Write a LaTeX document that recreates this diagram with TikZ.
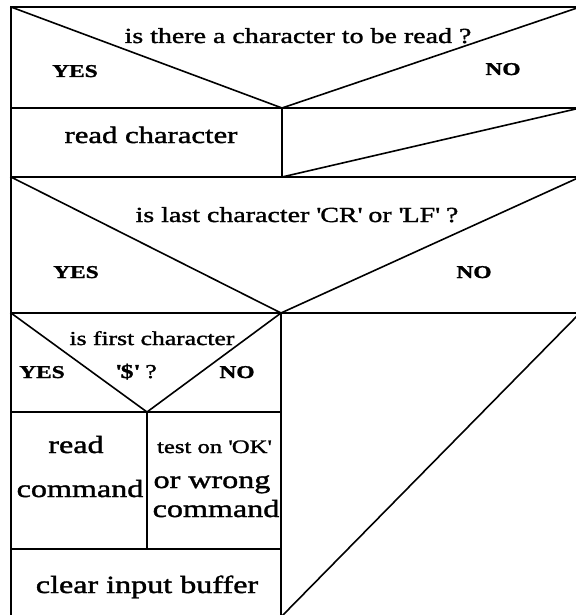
\documentclass[tikz,border=0pt]{standalone}
\usepackage{fontspec}
\setmainfont[FakeStretch=1.3, FakeBold=1.5]{Liberation Serif}
\newcommand\fsz[1]{\fontsize{#1}{#1}\selectfont}
\newcommand\sq{\textquotesingle}
\tikzset{
  frame/.style={line width=1.6pt, line join=miter, line cap=rect},
  lbl/.style={inner sep=0pt, anchor=base},
  question/.style={lbl, font=\fsz{21.5}},
  answer/.style={lbl, font=\fsz{18}\bfseries},
  action/.style={lbl, font=\fsz{24.7}},
}
\begin{document}
\begin{tikzpicture}[x=1pt, y=-1pt]
\useasboundingbox (0,0) rectangle (575,615);

% outer frame and horizontal rows
\draw[frame] (11,7) rectangle (580,617);
\draw[frame] (11,108) -- (580,108);
\draw[frame] (11,177) -- (580,177);
\draw[frame] (11,313) -- (580,313);
\draw[frame] (11,412) -- (281,412);
\draw[frame] (11,549) -- (281,549);

% vertical dividers
\draw[frame] (282,108) -- (282,177);
\draw[frame] (281,313) -- (281,617);
\draw[frame] (147,412) -- (147,549);

% decision: is there a character to be read ?
\draw[frame] (11,7) -- (282,108) -- (580,7);
% empty NO branch
\draw[frame] (282,177) -- (580,108);
% decision: is last character CR or LF ?
\draw[frame] (11,177) -- (281,313) -- (580,177);
% empty NO branch
\draw[frame] (281,617) -- (580,313);
% decision: is first character $ ?
\draw[frame] (11,313) -- (147,412) -- (281,313);

% texts
\node[question] (q1) at (298,43) {is there a character to be read ?};
\node[answer] (y1) at (75,77) {YES};
\node[answer] (n1) at (503,75) {NO};
\node[lbl, font=\fsz{23.6}] (rc) at (151,143) {read character};

\node[question] (q2) at (297,222) {is last character \sq CR\sq{} or \sq LF\sq{} ?};
\node[answer] (y2) at (76,278) {YES};
\node[answer] (n2) at (474,278) {NO};

\node[lbl, font=\fsz{19.7}] (q3a) at (152,345) {is first character};
\node[lbl, font=\fsz{19.7}] (q3b) at (136,378) {\textbf{\sq\$\sq} ?};
\node[answer] (y3) at (42,378) {YES};
\node[answer] (n3) at (237,378) {NO};

\node[action] (rd1) at (76,453) {read};
\node[action] (rd2) at (80,497) {command};
\node[lbl, font=\fsz{19}] (ts1) at (214,453) {test on \sq OK\sq};
\node[action] (ts2) at (212,488) {or wrong};
\node[action] (ts3) at (216,517) {command};

\node[action] (cl) at (147,593) {clear input buffer};
\end{tikzpicture}
\end{document}
